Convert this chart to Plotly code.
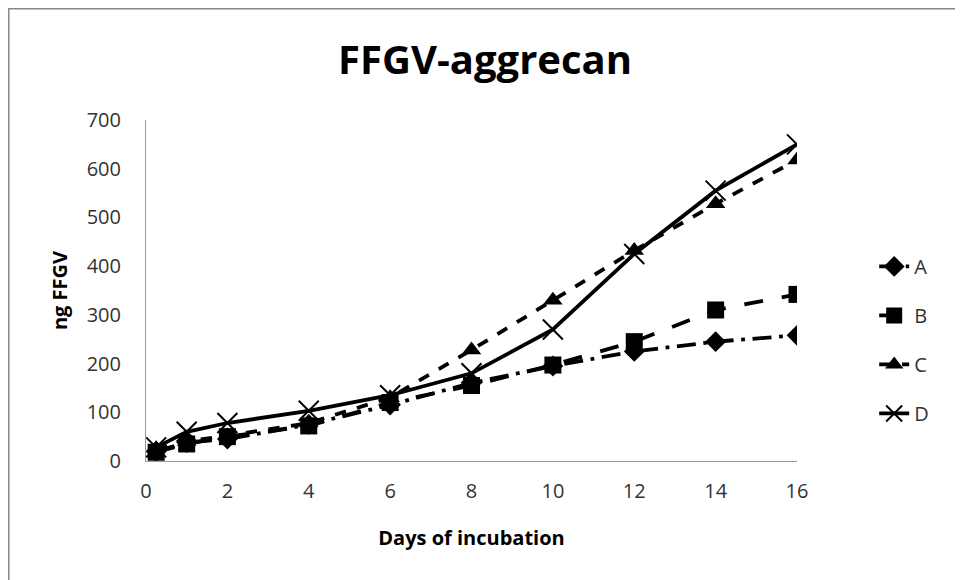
import plotly.graph_objects as go

days = [0.25, 1, 2, 4, 6, 8, 10, 12, 14, 16]
series_names = ["A", "B", "C", "D"]
a_vals = [20, 38, 45, 75, 115, 160, 195, 225, 245, 258]
b_vals = [18, 35, 50, 72, 120, 155, 197, 245, 310, 342]
c_vals = [25, 40, 52, 78, 130, 228, 330, 432, 528, 618]
d_vals = [28, 60, 78, 103, 135, 180, 270, 425, 555, 650]
x_ticks = [0, 2, 4, 6, 8, 10, 12, 14, 16]
y_ticks = [0, 100, 200, 300, 400, 500, 600, 700]

styles = {
    "A": dict(dash="longdashdot", symbol="diamond", size=16),
    "B": dict(dash="longdash", symbol="square", size=17),
    "C": dict(dash="dash", symbol="triangle-up", size=17),
    "D": dict(dash="solid", symbol="x-thin", size=20),
}

FONT = "Open Sans, Lato, sans-serif"

fig = go.Figure()
for name, vals in zip(series_names, [a_vals, b_vals, c_vals, d_vals]):
    st = styles[name]
    marker = dict(symbol=st["symbol"], size=st["size"], color="black")
    if st["symbol"] == "x-thin":
        marker["line"] = dict(color="black", width=2)
    fig.add_trace(go.Scatter(
        x=days, y=vals, name=name, mode="lines+markers",
        legendgroup=name,
        line=dict(color="black", width=3.8, dash=st["dash"]),
        marker=marker,
    ))

# page body adds an 8px offset; plot area target: x 146..797, y 120..461 on screen
L, T, PW, PH = 138, 112, 651, 341

fig.update_layout(
    width=963, height=580,
    paper_bgcolor="white", plot_bgcolor="white",
    margin=dict(l=L, r=963 - L - PW, t=T, b=580 - T - PH),
    font=dict(family=FONT, color="#333"),
    title=dict(text="<b>FFGV-aggrecan</b>", x=(485 - 146) / PW, xref="paper", xanchor="center",
               y=1 - 52 / 580, yanchor="middle",
               font=dict(size=40, color="black", family=FONT)),
    xaxis=dict(range=[0, 16], tickvals=x_ticks, showgrid=False, zeroline=False,
               showline=True, linecolor="#999", linewidth=1, ticks="",
               tickfont=dict(size=20, color="#333"), ticklabelstandoff=12,
               title=dict(text="<b>Days of incubation</b>", font=dict(size=20, color="black"), standoff=27)),
    yaxis=dict(range=[0, 700], tickvals=y_ticks, showgrid=False, zeroline=False,
               showline=True, linecolor="#999", linewidth=1, ticks="",
               tickfont=dict(size=20, color="#333"), ticklabelstandoff=20,
               title=dict(text="<b>ng FFGV</b>", font=dict(size=20, color="black"), standoff=13)),
    legend=dict(x=1.094 + 16 / PW, y=0.355, xanchor="left", yanchor="middle",
                font=dict(size=20, color="#333"), tracegroupgap=20,
                bgcolor="rgba(0,0,0,0)"),
    showlegend=True,
)

# outer chart border (left and top edges visible in the reference)
fig.add_shape(type="rect", xref="paper", yref="paper",
              x0=(8.8 - 146) / PW, x1=(980 - 146) / PW,
              y0=(461 - 600) / PH, y1=(461 - 8.8) / PH,
              line=dict(color="#888", width=1.5), fillcolor="rgba(0,0,0,0)", layer="below")

fig.write_html("out.html")
